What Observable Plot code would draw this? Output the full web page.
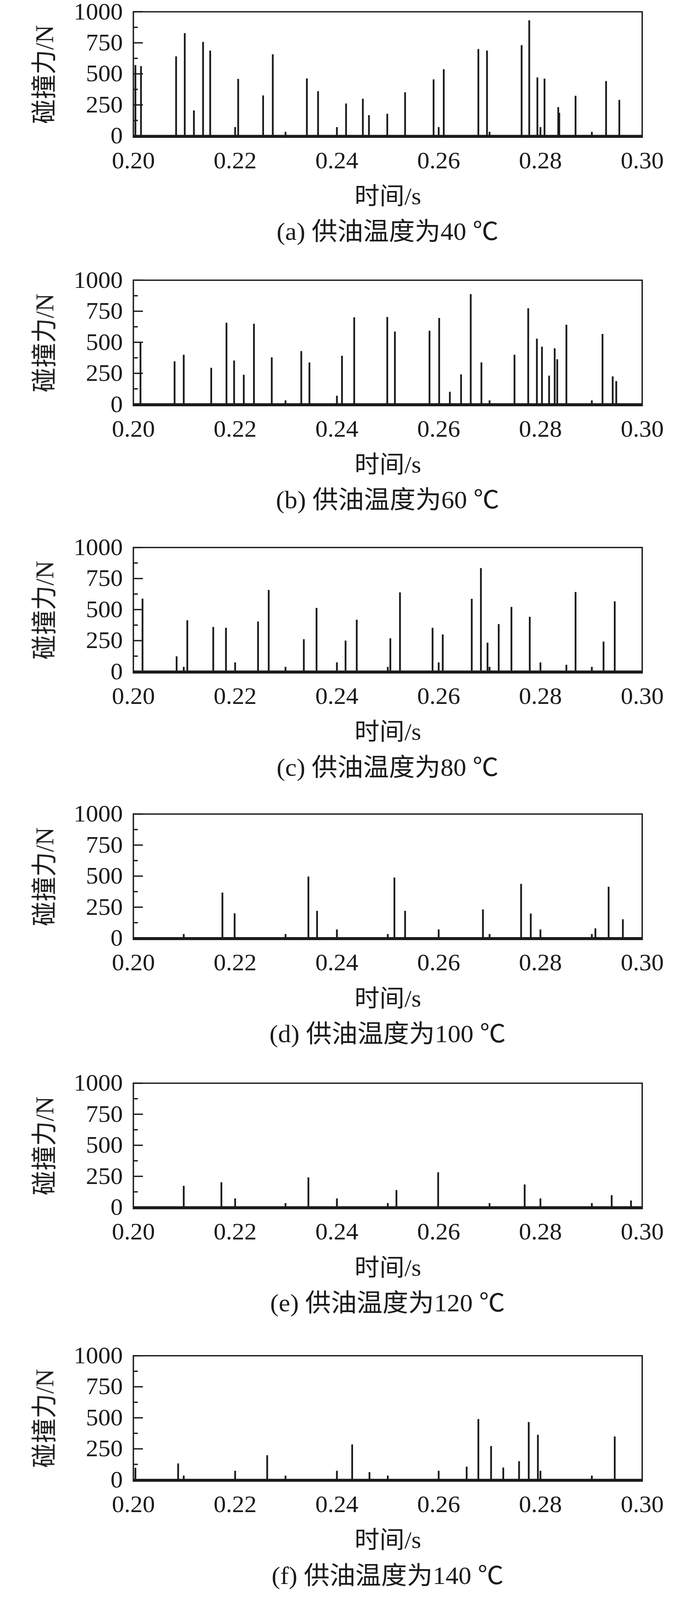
<!DOCTYPE html>
<html><head><meta charset="utf-8">
<script src="https://cdn.jsdelivr.net/npm/d3@7"></script>
<script src="https://cdn.jsdelivr.net/npm/@observablehq/plot@0.6"></script>
<style>
html,body{margin:0;padding:0;background:#fff;overflow:hidden}
#root{width:1772px;height:4274px;position:absolute;left:0;top:0;transform-origin:0 0}
.panel{position:relative;width:1772px}
.panel svg{display:block}
.cap{width:1303px;margin-left:341px;text-align:center;font-family:"Liberation Serif","Noto Sans CJK SC",serif;font-size:66px;line-height:80px;height:80px;color:#1a1a1a;white-space:pre}
svg g[aria-label="y-axis label"]{font-size:66px}
svg g[aria-label="x-axis label"]{font-size:64px}
</style></head><body><div id="root"></div>
<script>
const letters = ["a", "b", "c", "d", "e", "f"];
const temps = [40, 60, 80, 100, 120, 140];
const xTicks = [0.20, 0.22, 0.24, 0.26, 0.28, 0.30];
const yTicks = [0, 250, 500, 750, 1000];
const yMinor = [125, 375, 625, 875];
const xLabel = "时间/s";
const yLabel = "碰撞力/N";

// 40 ℃
const t40 = [0.2004,0.2015,0.2084,0.2101,0.2119,0.2137,0.2151,0.2200,0.2206,0.2255,0.2274,0.2299,0.2341,0.2363,0.2400,0.2418,0.2451,0.2463,0.2499,0.2534,0.2590,0.2600,0.2610,0.2678,0.2695,0.2700,0.2763,0.2778,0.2794,0.2800,0.2808,0.2835,0.2837,0.2869,0.2901,0.2929,0.2955];
const f40 = [570,561,640,827,204,756,686,70,458,325,656,32,462,359,70,260,298,166,177,350,454,70,536,699,686,32,730,930,470,70,460,231,185,322,32,441,289];
// 60 ℃
const t60 = [0.2014,0.2081,0.2099,0.2153,0.2183,0.2198,0.2217,0.2237,0.2272,0.2299,0.2330,0.2346,0.2400,0.2410,0.2434,0.2499,0.2514,0.2582,0.2601,0.2622,0.2644,0.2663,0.2684,0.2700,0.2749,0.2776,0.2793,0.2803,0.2817,0.2828,0.2833,0.2851,0.2901,0.2922,0.2942,0.2949];
const f60 = [495,345,398,293,656,352,237,648,377,31,428,336,68,390,700,702,585,591,694,100,240,886,337,31,398,772,528,463,230,450,362,640,31,565,224,186];
// 80 ℃
const t80 = [0.2018,0.2085,0.2099,0.2106,0.2157,0.2182,0.2200,0.2245,0.2266,0.2299,0.2335,0.2360,0.2400,0.2417,0.2439,0.2500,0.2505,0.2524,0.2588,0.2600,0.2608,0.2665,0.2683,0.2696,0.2700,0.2718,0.2743,0.2779,0.2800,0.2851,0.2869,0.2901,0.2924,0.2946];
const f80 = [587,122,37,412,359,352,73,402,657,37,260,512,73,249,417,37,267,637,352,73,298,585,833,232,37,382,520,440,73,54,640,37,241,565];
// 100 ℃
const t100 = [0.2099,0.2175,0.2199,0.2299,0.2344,0.2361,0.2400,0.2500,0.2513,0.2534,0.2600,0.2687,0.2700,0.2762,0.2781,0.2800,0.2901,0.2908,0.2934,0.2962];
const f100 = [32,366,199,32,495,219,69,32,487,219,69,230,32,436,197,69,32,78,413,151];
// 120 ℃
const t120 = [0.2099,0.2173,0.2200,0.2299,0.2344,0.2400,0.2500,0.2517,0.2599,0.2700,0.2769,0.2800,0.2901,0.2940,0.2978];
const f120 = [172,201,70,33,240,70,33,138,281,33,183,70,33,97,54];
// 140 ℃
const t140 = [0.2004,0.2088,0.2099,0.2200,0.2263,0.2299,0.2400,0.2430,0.2464,0.2500,0.2600,0.2655,0.2678,0.2703,0.2727,0.2758,0.2777,0.2795,0.2800,0.2901,0.2946];
const f140 = [96,131,33,72,197,33,72,284,61,33,72,105,489,271,98,149,464,362,72,33,348];

const times = [t40, t60, t80, t100, t120, t140];
const forces = [f40, f60, f80, f100, f120, f140];
// gap after each caption so that plot tops land at 31, 748, 1462, 2174, 2893, 3621
const gaps = [58, 55, 53, 60, 69, 0];
const ink = "#1a1a1a";
const root = document.getElementById("root");

times.forEach((ts, k) => {
  const data = ts.map((t, i) => ({t, f: forces[k][i]}));
  const div = document.createElement("div");
  div.className = "panel";
  const chart = Plot.plot({
    width: 1772, height: 579,
    marginTop: 31, marginLeft: 341, marginRight: 128, marginBottom: 213,
    style: {fontFamily: '"Liberation Serif","Noto Sans CJK SC",serif', fontSize: "63px", color: ink, background: "white", overflow: "visible", maxWidth: "none"},
    x: {domain: [0.2, 0.3]},
    y: {domain: [-10, 1000]},
    marks: [
      Plot.ruleY([0], {stroke: ink, strokeWidth: 6}),
      Plot.ruleX(data, {x: "t", y1: 0, y2: "f", stroke: ink, strokeWidth: 4.5}),
      Plot.frame({stroke: ink, strokeWidth: 3.5}),
      Plot.axisX({ticks: xTicks, tickFormat: d3.format(".2f"), tickSize: 0, tickPadding: 38, label: xLabel, labelAnchor: "center", labelOffset: 179, labelArrow: "none"}),
      Plot.axisY({ticks: yTicks, tickFormat: d3.format("d"), tickSize: 0, tickPadding: 27, label: yLabel, labelAnchor: "center", labelOffset: 252, labelArrow: "none"}),
      Plot.axisY({ticks: yTicks, tickSize: -25, tickFormat: () => "", strokeWidth: 3.5, label: null}),
      Plot.axisY({ticks: yMinor, tickSize: -12, tickFormat: () => "", strokeWidth: 3.5, label: null})
    ]
  });
  div.appendChild(chart);
  const cap = document.createElement("div");
  cap.className = "cap";
  cap.textContent = `(${letters[k]}) 供油温度为${temps[k]} ℃`;
  div.appendChild(cap);
  div.style.marginBottom = gaps[k] + "px";
  root.appendChild(div);
});

function fit() {
  const sx = Math.min(1, window.innerWidth / 1772);
  const sy = Math.min(1, window.innerHeight / 4274);
  root.style.transform = (sx < 0.999 || sy < 0.999) ? `scale(${sx}, ${sy})` : "none";
}
fit();
window.addEventListener("resize", fit);
</script>
</body></html>
